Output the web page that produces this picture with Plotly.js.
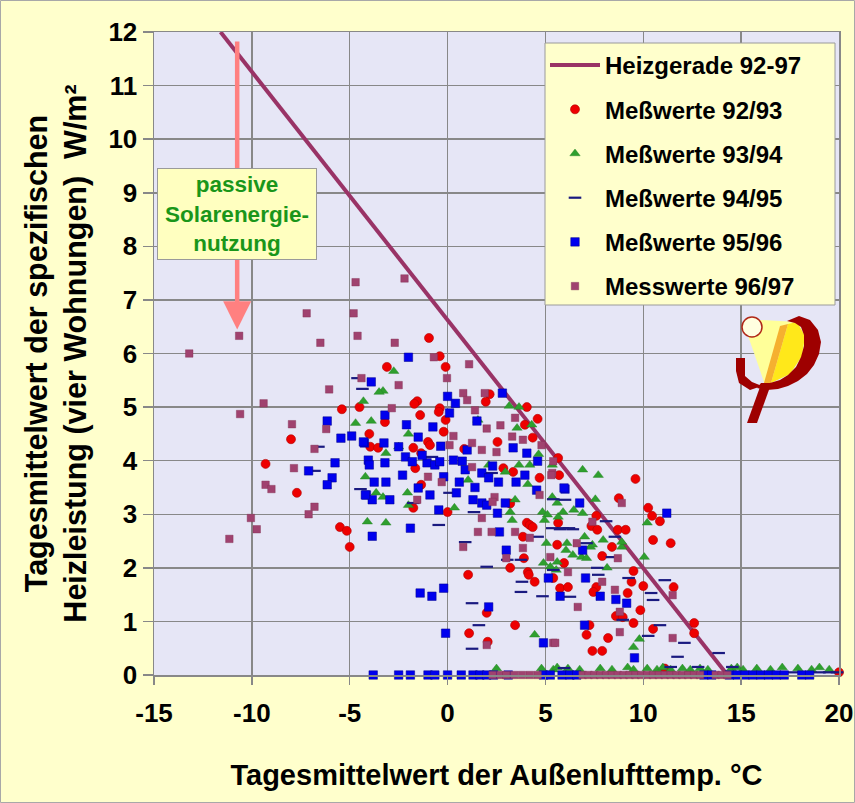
<!DOCTYPE html>
<html>
<head>
<meta charset="utf-8">
<script src="https://cdn.plot.ly/plotly-3.0.1.min.js"></script>
<style>
  html, body { margin: 0; padding: 0; background: #FFFFCC; }
  #chart { width: 855px; height: 803px; }
</style>
</head>
<body>
<div id="chart"></div>
<script>
// Heizgerade (heating line) 92-97
const lineTemp = [-11.6, 14.3];
const linePower = [12, 0];

// Messwerte 92/93 (red circles)
const temp9293 = [-5.4,-4.5,-8.0,-4.0,-3.95,-3.55,-9.3,-7.7,-5.5,-5.15,-5.0,-0.95,-0.4,-0.1,-3.1,
  -1.55,-1.7,-0.4,-0.45,-1.4,-3.2,-0.1,2.15,1.95,4.05,4.6,3.95,4.35,-1.0,-0.9,-0.2,-1.75,-1.35,0.85,2.55,
  5.65,5.7,4.7,2.85,3.35,-1.65,-1.35,-1.75,0.0,3.2,4.05,4.2,4.35,3.85,5.65,5.6,3.9,3.2,4.1,4.15,4.45,
  5.4,5.75,6.15,1.05,2.0,3.45,1.1,2.05,7.1,7.4,7.6,9.6,8.75,10.25,10.45,10.85,7.6,8.7,9.1,7.35,7.65,
  10.5,11.4,5.95,8.4,7.9,9.5,9.4,10.0,11.55,7.45,9.2,7.25,8.6,8.95,9.5,9.85,10.5,12.6,12.6,8.2,7.9,
  11.1,20.0];
const power9293 = [4.96,5.0,4.4,4.5,4.26,4.24,3.94,3.4,2.76,2.69,2.39,6.29,5.95,5.75,5.75,
  5.11,5.06,4.98,4.91,4.85,4.72,4.76,5.24,5.1,5.0,4.78,4.67,4.43,4.35,4.29,4.54,4.24,4.14,4.22,4.35,
  4.05,3.73,3.68,3.86,3.79,3.86,3.55,3.12,3.04,3.2,2.84,2.8,2.76,2.58,2.84,2.43,2.18,2.0,1.92,1.87,1.74,
  1.81,1.62,1.64,1.87,1.16,0.93,0.78,0.62,0.75,0.45,1.64,3.66,3.3,3.12,2.97,2.87,2.97,2.71,2.71,2.78,2.71,
  2.52,2.46,2.09,2.39,2.22,1.94,1.74,1.66,1.64,1.55,1.53,0.93,1.1,1.08,0.97,1.21,0.86,0.97,0.78,0.69,0.45,
  0.12,0.05];

// Messwerte 93/94 (green triangles)
const temp9394 = [-2.75,-3.3,-4.3,-3.9,-4.7,-2.0,-2.5,-3.15,-4.2,-3.65,-3.3,-2.05,-2.0,-4.1,-3.15,0.35,
  1.55,1.05,2.1,2.95,3.15,3.65,3.55,4.3,4.2,3.65,4.65,3.45,3.2,4.1,5.35,4.85,5.1,4.95,3.3,5.6,5.65,5.9,
  5.05,6.1,6.05,6.85,4.9,5.25,6.9,7.7,7.1,4.45,5.55,7.3,5.35,10.2,7.55,6.45,6.9,5.6,6.4,7.4,8.9,7.95,
  7.0,10.05,8.15,9.8,9.5,8.9,-3.5,
  2.5,4.8,5.4,5.6,6.15,6.75,7.8,8.4,9.2,9.5,10.2,10.7,11.0,11.4,12.0,12.4,12.9,13.3,14.5,14.8,15.1,
  15.8,16.5,17.1,17.9,18.6,19.0,19.5];
const power9394 = [5.67,5.3,5.11,4.74,4.7,4.5,4.26,4.14,3.7,3.4,3.32,3.4,3.17,2.86,2.84,3.12,
  4.76,3.64,3.92,3.79,5.02,5.0,4.61,4.67,3.92,3.92,4.12,3.27,3.04,3.56,3.32,3.04,2.99,2.89,2.89,3.21,2.95,3.04,
  2.46,2.46,2.33,2.2,2.09,2.02,3.83,3.73,2.18,0.75,1.96,2.39,3.92,2.84,3.28,3.08,3.02,2.11,2.24,2.43,2.39,2.52,
  2.58,2.2,2.0,0.67,0.52,2.48,5.28,
  0.12,0.12,0.1,0.14,0.12,0.1,0.12,0.1,0.14,0.1,0.12,0.1,0.14,0.1,0.12,0.1,0.12,0.1,0.12,0.14,0.1,
  0.12,0.1,0.14,0.12,0.1,0.14,0.1];

// Messwerte 94/95 (navy dashes)
const temp9495 = [-4.35,-4.6,-0.8,0.1,-4.45,-1.75,1.35,-0.45,0.9,2.0,3.75,3.8,3.75,4.85,1.25,1.6,1.25,
  5.35,5.9,6.4,3.05,4.6,5.4,6.25,6.0,2.25,-6.6,-6.8,5.4,5.75,6.2,8.1,8.55,7.1,7.7,8.4,9.25,8.95,11.1,
  10.4,10.5,10.85,10.25,12.1,11.75,13.85,14.55,7.65,5.95,11.4,12.8,17.6,19.0,19.5,19.9];
const power9495 = [5.34,5.54,4.07,3.4,3.47,3.21,3.04,2.8,2.48,2.02,2.15,1.74,1.55,1.47,1.34,0.93,0.49,
  2.74,2.74,2.72,2.15,2.58,1.96,1.46,3.27,3.77,4.26,3.81,3.28,2.72,2.74,2.87,2.58,2.46,1.87,2.2,1.81,1.03,1.77,
  1.53,1.4,0.93,0.73,0.6,0.34,0.41,0.15,2.0,0.13,0.15,0.15,0.05,0.05,0.05,0.05];

// Messwerte 95/96 (blue squares)
const temp9596 = [-3.9,-6.15,-5.45,-4.9,-4.25,-5.75,-4.05,-4.0,-7.1,-5.9,-6.15,-3.75,-4.15,-3.85,-3.85,
  -2.0,2.8,0.0,0.4,-3.2,0.1,1.5,-2.1,-0.75,-1.5,-0.35,-3.25,-4.3,-2.5,3.35,4.05,4.6,-3.2,-2.15,-1.8,
  -1.05,-0.65,-0.4,0.3,0.75,0.9,1.75,2.1,2.6,3.5,3.95,-3.15,-2.3,-1.5,-0.9,0.45,-4.2,-2.95,1.3,1.75,
  2.0,2.55,2.95,-0.45,-1.9,2.65,3.0,-0.2,-1.4,-0.8,2.1,-0.1,4.9,5.15,5.75,6.0,4.55,7.0,7.05,5.95,6.75,
  11.2,6.9,7.8,8.6,9.15,9.55,-0.2,0.6,1.0,-1.3,1.4,2.3,
  -3.8,-2.5,-1.9,-1.0,-0.65,0.0,0.7,1.3,1.65,2.0,2.35,3.1,4.9,5.25,5.85,6.25,6.6,13.1,13.5,14.4,14.8,
  15.2,15.6,16.0,16.4,16.8,17.2,18.1,18.5];
const power9596 = [5.47,4.74,4.42,4.46,4.33,3.96,4.01,3.92,3.81,3.68,3.55,3.6,3.36,3.27,2.59,
  5.93,5.26,5.2,5.07,4.85,4.89,4.74,4.67,4.63,4.44,4.27,4.33,4.35,4.26,4.24,4.14,3.99,3.96,4.07,3.98,
  3.96,3.92,3.98,4.01,3.99,3.83,3.77,3.68,3.6,3.6,3.73,3.6,3.73,3.49,3.36,3.4,3.36,3.27,3.27,3.21,
  3.17,3.02,3.21,3.08,2.74,2.67,2.33,1.62,1.53,1.47,1.27,0.78,0.6,1.81,1.47,3.47,3.45,0.93,1.81,3.49,3.21,
  3.02,2.33,1.47,1.41,1.34,0.32,3.7,3.6,4.2,4.1,3.5,3.9,
  0,0,0,0,0,0,0,0,0,0,0,0,0,0,0,0,0,0,0,0,0,
  0,0,0,0,0,0,0,0];

// Messwerte 96/97 (purple squares)
const temp9697 = [-13.2,-10.65,-7.2,-6.5,-4.7,-4.8,-4.6,-2.2,-2.7,-0.7,1.1,-4.4,-6.05,-9.4,-10.6,-7.95,
  -6.2,-6.8,-7.85,-9.3,-9.0,-6.8,-7.1,-10.05,-9.75,-11.15,-0.03,-2.5,0.8,1.9,1.0,-2.85,3.45,1.4,2.0,2.7,
  3.3,0.3,0.1,1.25,1.75,2.5,4.8,3.85,5.35,-1.0,1.25,-0.3,2.4,2.3,4.7,-1.55,1.75,1.55,2.25,3.45,4.2,3.85,
  0.8,3.0,5.25,6.6,6.65,5.4,2.0,5.4,5.3,8.9,7.4,6.15,8.7,7.9,8.55,8.8,8.8,5.5,11.5,11.5,
  2.3,2.7,3.0,3.4,3.8,4.2,4.6,6.9,7.2,7.5,7.8,8.1,8.4,8.7,9.0,9.3,9.6,9.9,10.2,10.5,10.8,11.1,11.4,
  11.7,12.0,12.3,12.6,12.9,13.7,14.0,14.3];
const power9697 = [6.0,6.33,6.75,6.2,7.33,6.75,6.33,7.4,6.2,5.93,5.8,5.54,5.33,5.07,4.87,4.68,
  4.59,4.22,3.86,3.55,3.47,3.14,3.0,2.93,2.72,2.54,5.54,5.41,5.26,5.26,5.13,4.98,4.8,4.94,4.6,4.66,
  4.45,4.46,4.29,4.33,4.2,4.16,4.29,4.39,3.77,3.7,3.88,3.6,3.32,3.23,3.36,3.27,2.93,2.67,2.67,2.67,2.56,2.37,
  2.39,2.18,2.2,2.46,1.27,0.6,0.56,3.99,3.73,3.21,2.86,1.92,2.18,1.74,1.59,1.18,0.8,0.6,1.49,0.69,
  0,0,0,0,0,0,0,0,0,0,0,0,0,0,0,0,0,0,0,0,0,0,0,
  0,0,0,0,0,0,0,0];

const xTicks = [-15, -10, -5, 0, 5, 10, 15, 20];
const yTicks = [0, 1, 2, 3, 4, 5, 6, 7, 8, 9, 10, 11, 12];

const FONT = 'Liberation Sans, Arial, Helvetica, sans-serif';

function pts(name, group, x, y, marker) {
  return { type: 'scatter', mode: 'markers', name: name, legendgroup: group,
           x: x, y: y, marker: marker, cliponaxis: false, hoverinfo: 'x+y' };
}

const traces = [
  { type: 'scatter', mode: 'lines', name: 'Heizgerade 92-97', legendgroup: 'g0',
    x: lineTemp, y: linePower, line: { color: '#993366', width: 4 }, cliponaxis: false },
  pts('Meßwerte 92/93', 'g1', temp9293, power9293,
      { symbol: 'circle', size: 9, color: '#EE0000', line: { color: '#B00000', width: 0.6 } }),
  pts('Meßwerte 93/94', 'g2', temp9394, power9394,
      { symbol: 'triangle-up', size: 9, color: '#2F9F2F', line: { color: '#1F7F1F', width: 0.4 } }),
  pts('Meßwerte 94/95', 'g3', temp9495, power9495,
      { symbol: 'line-ew', size: 9, color: '#1A1A80', line: { color: '#1A1A80', width: 2.2 } }),
  pts('Meßwerte 95/96', 'g4', temp9596, power9596,
      { symbol: 'square', size: 8.5, color: '#0000EE', line: { color: '#00008B', width: 0.5 } }),
  pts('Messwerte 96/97', 'g5', temp9697, power9697,
      { symbol: 'square', size: 7.5, color: '#A0426F', line: { color: '#803050', width: 0.4 } })
];

// plot area size in pixels, used to place the logo and frames in paper units
const PW = 855 - 154 - 16, PH = 803 - 32 - 128;
const LOGO_X = 581 / PW, LOGO_Y = 359 / PH; // logo frame top-left, paper units
function logo(points) {
  return 'M' + points.map(p => (LOGO_X + p[0] / PW).toFixed(5) + ',' + (LOGO_Y - p[1] / PH).toFixed(5)).join('L') + 'Z';
}
const fanLight = [[15,6],[25,4],[62,6],[70,20],[67,40],[55,58],[30,69],[18,34],[12,17]];
const fanBright = [[53,8],[62,6],[70,20],[67,40],[55,58],[36,67]];
const fanStripe = [[45,10],[53,8],[36,67],[29,67]];
const bowl = [[52,5],[64,0],[75,4],[83,14],[86,26],[84,38],[79,49],[72,58],[63,65],[53,70],[43,73],[32,74],[22,72],
              [26,67],[35,67],[45,64],[53,59],[61,51],[66,41],[69,30],[69,19],[66,11],[60,7]];
const hook = [[1,42],[10,42],[10,60],[17,66],[27,70],[15,74],[4,67],[1,55]];
const stem = [[25,71],[35,71],[22,107],[12,107]];

const shapes = [
  { type: 'path', xref: 'paper', yref: 'paper', path: logo(fanLight), fillcolor: '#FFFF99', line: { width: 0 } },
  { type: 'path', xref: 'paper', yref: 'paper', path: logo(fanBright), fillcolor: '#FFE81A', line: { width: 0 } },
  { type: 'path', xref: 'paper', yref: 'paper', path: logo(fanStripe), fillcolor: '#F5B030', line: { width: 0 } },
  { type: 'path', xref: 'paper', yref: 'paper', path: logo(bowl), fillcolor: '#9E0000', line: { width: 0 } },
  { type: 'path', xref: 'paper', yref: 'paper', path: logo(hook), fillcolor: '#9E0000', line: { width: 0 } },
  { type: 'path', xref: 'paper', yref: 'paper', path: logo(stem), fillcolor: '#9E0000', line: { width: 0 } },
  { type: 'circle', xref: 'paper', yref: 'paper',
    x0: LOGO_X + 7 / PW, x1: LOGO_X + 27 / PW, y0: LOGO_Y - 21 / PH, y1: LOGO_Y - 1 / PH,
    fillcolor: '#FFFFE0', line: { color: '#B02818', width: 1.5 } },
  // legend box
  { type: 'rect', xref: 'paper', yref: 'paper', layer: 'above',
    x0: (545 - 154) / PW, x1: (835 - 154) / PW, y0: (675 - 305) / PH, y1: (675 - 43) / PH,
    fillcolor: '#FFFFCC', line: { color: '#9A9A9A', width: 1 } },
  // thin frame round the whole figure
  { type: 'rect', xref: 'paper', yref: 'paper',
    x0: -153.5 / PW, x1: 700.5 / PW, y0: -127.5 / PH, y1: 674.5 / PH,
    line: { color: '#A8A8A8', width: 1 }, fillcolor: 'rgba(0,0,0,0)' }
];

const annotations = [
  { x: -10.75, y: 6.45, ax: -10.75, ay: 11.85, axref: 'x', ayref: 'y', xref: 'x', yref: 'y',
    text: '', showarrow: true, arrowhead: 2, arrowsize: 1.25, arrowwidth: 4.5,
    arrowcolor: '#FF8080', standoff: 0 },
  { x: -10.75, y: 8.6, xref: 'x', yref: 'y', showarrow: false,
    text: 'passive<br>Solarenergie-<br>nutzung',
    font: { family: FONT, size: 22.5, color: '#1A961A', weight: 'bold' },
    bgcolor: '#FFFFC0', bordercolor: '#9A9A9A', borderwidth: 1, borderpad: 1, width: 156, height: 88 }
];

const axisCommon = {
  showgrid: true, gridcolor: '#888888', gridwidth: 1.5, zeroline: false,
  ticks: 'outside', tickcolor: '#888888', tickwidth: 1.5,
  showline: true, linecolor: '#888888', linewidth: 1.5, mirror: true,
  tickfont: { family: FONT, size: 26, color: '#000', weight: 'bold' }, fixedrange: true
};

const layout = {
  width: 855, height: 803,
  margin: { l: 154, r: 16, t: 32, b: 128 },
  paper_bgcolor: '#FFFFCC',
  plot_bgcolor: '#E6E6F6',
  font: { family: FONT, color: '#000' },
  showlegend: true,
  legend: {
    x: (545 - 154) / PW, y: (675 - 43) / PH, xanchor: 'left', yanchor: 'top',
    bgcolor: 'rgba(0,0,0,0)', borderwidth: 0,
    font: { family: FONT, size: 24, color: '#000', weight: 'bold' },
    tracegroupgap: 10, itemwidth: 50
  },
  xaxis: Object.assign({}, axisCommon, {
    range: [-15, 20], tickvals: xTicks, ticktext: xTicks.map(String), ticklen: 8,
    ticklabelstandoff: 6,
    title: { text: 'Tagesmittelwert der Außenlufttemp. °C',
             font: { family: FONT, size: 29, color: '#000', weight: 'bold' }, standoff: 38 }
  }),
  yaxis: Object.assign({}, axisCommon, {
    range: [0, 12], tickvals: yTicks, ticktext: yTicks.map(String), ticklen: 10,
    title: { text: 'Tagesmittelwert der spezifischen<br>Heizleistung (vier Wohnungen)  W/m²',
             font: { family: FONT, size: 30.5, color: '#000', weight: 'bold' }, standoff: 12 }
  }),
  shapes: shapes,
  annotations: annotations
};

Plotly.newPlot('chart', traces, layout, { displayModeBar: false, staticPlot: true });
</script>
</body>
</html>
